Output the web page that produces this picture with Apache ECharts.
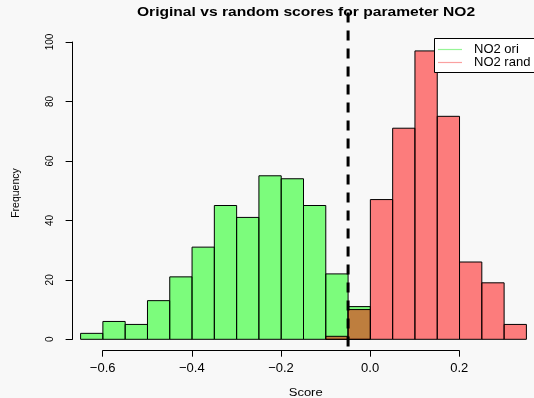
<!DOCTYPE html>
<html>
<head>
<meta charset="utf-8">
<script src="https://cdn.jsdelivr.net/npm/echarts@6/dist/echarts.min.js"></script>
<style>
html,body{margin:0;padding:0;background:#f8f8f8;}
#chart{width:534px;height:398px;}
</style>
</head>
<body>
<div id="chart"></div>
<script>
// ---- data ----
var binWidth = 0.05;
var oriBinStarts = [-0.65, -0.60, -0.55, -0.50, -0.45, -0.40, -0.35, -0.30, -0.25, -0.20, -0.15, -0.10, -0.05];
var oriCounts    = [2, 6, 5, 13, 21, 31, 45, 41, 55, 54, 45, 22, 11];
var randBinStarts = [-0.10, -0.05, 0.00, 0.05, 0.10, 0.15, 0.20, 0.25, 0.30];
var randCounts    = [1, 10, 47, 71, 97, 75, 26, 19, 5];
var thresholdX = -0.05;
var xTicks = [-0.6, -0.4, -0.2, 0.0, 0.2];
var yTicks = [0, 20, 40, 60, 80, 100];
var seriesNames = ['NO2 ori', 'NO2 rand'];
var titleText = 'Original vs random scores for parameter NO2';

var FONT = '"Liberation Sans", Arial, Helvetica, sans-serif';
var GREEN = 'rgba(0,255,0,0.5)';
var RED = 'rgba(255,0,0,0.5)';

function histData(starts, counts) {
  return starts.map(function (s, i) { return [s, s + binWidth, counts[i]]; });
}
function makeRender(fill) {
  return function (params, api) {
    var p0 = api.coord([api.value(0), api.value(2)]);
    var p1 = api.coord([api.value(1), 0]);
    return {
      type: 'rect',
      shape: { x: p0[0], y: p0[1], width: p1[0] - p0[0], height: p1[1] - p0[1] },
      style: { fill: fill, stroke: '#000', lineWidth: 1 }
    };
  };
}
function fmtX(v) {
  return (v < -1e-9 ? '\u2212' : '') + Math.abs(v).toFixed(1);
}

var chart = echarts.init(document.getElementById('chart'), null, { renderer: 'canvas' });
var option = {
  animation: false,
  backgroundColor: '#f8f8f8',
  grid: [
    { left: 80.6, width: 445.8, top: 42, bottom: 58.7 },
    { left: 102.7, width: 356.6, top: 42, bottom: 58.7 }
  ],
  xAxis: [
    { gridIndex: 0, type: 'value', min: -0.65, max: 0.35, show: false },
    {
      gridIndex: 1, type: 'value', min: xTicks[0], max: xTicks[xTicks.length - 1],
      interval: 0.2, offset: 11.4,
      axisLine: { show: true, onZero: false, lineStyle: { color: '#000', width: 1 } },
      axisTick: { show: true, length: 6, lineStyle: { color: '#000' } },
      splitLine: { show: false },
      axisLabel: { color: '#000', fontSize: 13, fontFamily: FONT, margin: 11, formatter: fmtX }
    }
  ],
  yAxis: [
    {
      gridIndex: 0, type: 'value', min: yTicks[0], max: yTicks[yTicks.length - 1],
      interval: 20, offset: 8,
      axisLine: { show: true, onZero: false, lineStyle: { color: '#000', width: 1 } },
      axisTick: { show: true, length: 7, lineStyle: { color: '#000' } },
      splitLine: { show: false },
      axisLabel: { color: '#000', fontSize: 10, fontFamily: FONT, rotate: 90, margin: 17 }
    },
    { gridIndex: 1, type: 'value', min: 0, max: 100, show: false }
  ],
  legend: {
    orient: 'vertical', left: 434, top: 38, z: 10,
    data: [
      { name: seriesNames[0], icon: 'rect', itemStyle: { color: 'rgb(150,245,150)' } },
      { name: seriesNames[1], icon: 'rect', itemStyle: { color: 'rgb(250,160,160)' } }
    ],
    itemWidth: 24, itemHeight: 1.2, itemGap: 0,
    padding: [5, 10, 5, 4],
    selectedMode: false,
    textStyle: { color: '#000', fontSize: 13, fontFamily: FONT, lineHeight: 12.4, padding: [0, 0, 0, 7] }
  },
  graphic: [
    {
      type: 'rect', z: 5,
      shape: { x: 434.5, y: 38.5, width: 130, height: 34 },
      style: { fill: '#fff', stroke: '#000', lineWidth: 1 }
    },
    {
      type: 'text', x: 306, y: 13, scaleX: 1.3,
      style: { text: titleText, fill: '#000', font: 'bold 12px ' + FONT, align: 'center', verticalAlign: 'middle' }
    },
    {
      type: 'text', x: 305.7, y: 393, scaleX: 1.3,
      style: { text: 'Score', fill: '#000', font: '10px ' + FONT, align: 'center', verticalAlign: 'middle' }
    },
    {
      type: 'text', x: 16, y: 193, rotation: Math.PI / 2,
      style: { text: 'Frequency', fill: '#000', font: '10.5px ' + FONT, align: 'center', verticalAlign: 'middle' }
    }
  ],
  series: [
    {
      name: seriesNames[0], type: 'custom', xAxisIndex: 0, yAxisIndex: 0,
      itemStyle: { color: GREEN },
      renderItem: makeRender(GREEN),
      encode: { x: [0, 1], y: 2 },
      data: histData(oriBinStarts, oriCounts)
    },
    {
      name: seriesNames[1], type: 'custom', xAxisIndex: 0, yAxisIndex: 0,
      itemStyle: { color: RED },
      renderItem: makeRender(RED),
      encode: { x: [0, 1], y: 2 },
      data: histData(randBinStarts, randCounts)
    },
    {
      name: 'threshold', type: 'line', xAxisIndex: 0, yAxisIndex: 0,
      clip: false, symbol: 'none', silent: true,
      lineStyle: { color: '#000', width: 3, type: [10, 8] },
      data: [[thresholdX, 109.9], [thresholdX, -3.5]],
      z: 4
    }
  ]
};
chart.setOption(option);
</script>
</body>
</html>
